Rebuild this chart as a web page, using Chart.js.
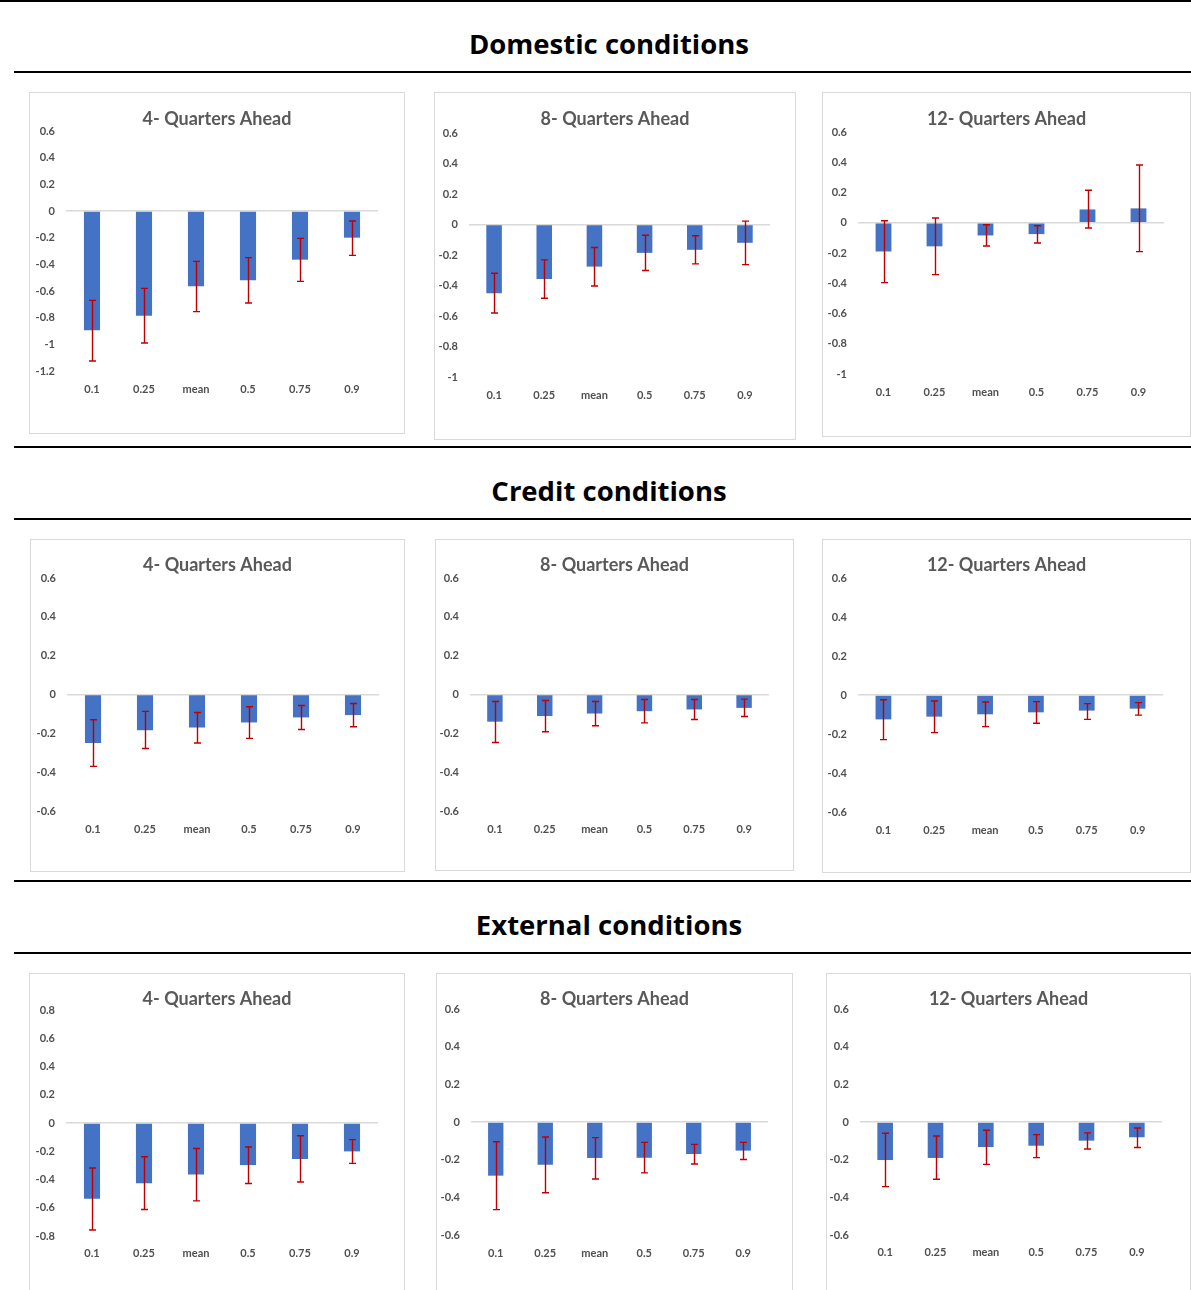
<!DOCTYPE html>
<html>
<head>
<meta charset="utf-8">
<script src="https://cdn.jsdelivr.net/npm/chart.js@4.4.1/dist/chart.umd.min.js"></script>
<style>
  html, body { margin: 0; padding: 0; background: #ffffff; }
  #page { position: relative; width: 1191px; height: 1290px; overflow: hidden; background: #ffffff; }
  .rule { position: absolute; height: 2px; background: #000000; }
  .heading { position: absolute; left: 0; width: 1218px; text-align: center;
             font-family: "Open Sans", "Noto Sans", sans-serif; font-weight: 700;
             font-size: 27.5px; line-height: 30px; color: #000000; }
  .box { position: absolute; box-sizing: border-box; border: 1px solid #d9d9d9; background: #ffffff; }
  .box canvas { position: absolute; left: -1px; top: -1px; }
</style>
</head>
<body>
<div id="page"></div>
<script>
// Horizons and categories
const categories = ['0.1', '0.25', 'mean', '0.5', '0.75', '0.9'];
const horizonTitles = ['4- Quarters Ahead', '8- Quarters Ahead', '12- Quarters Ahead'];
const sectionTitles = ['Domestic conditions', 'Credit conditions', 'External conditions'];

// Domestic conditions: point estimates and confidence bands
const domestic4Value = [-0.895, -0.785, -0.565, -0.52, -0.365, -0.2];
const domestic4Low   = [-1.125, -0.99, -0.755, -0.69, -0.528, -0.333];
const domestic4High  = [-0.67, -0.58, -0.378, -0.35, -0.205, -0.075];

const domestic8Value = [-0.45, -0.357, -0.276, -0.186, -0.166, -0.12];
const domestic8Low   = [-0.58, -0.484, -0.403, -0.302, -0.258, -0.263];
const domestic8High  = [-0.32, -0.232, -0.151, -0.07, -0.074, 0.022];

const domestic12Value = [-0.19, -0.156, -0.084, -0.075, 0.088, 0.095];
const domestic12Low   = [-0.396, -0.343, -0.154, -0.134, -0.035, -0.191];
const domestic12High  = [0.013, 0.031, -0.013, -0.02, 0.215, 0.382];

// Credit conditions
const credit4Value = [-0.25, -0.184, -0.17, -0.144, -0.118, -0.106];
const credit4Low   = [-0.37, -0.278, -0.25, -0.226, -0.18, -0.166];
const credit4High  = [-0.13, -0.087, -0.093, -0.063, -0.057, -0.046];

const credit8Value = [-0.14, -0.111, -0.098, -0.086, -0.077, -0.069];
const credit8Low   = [-0.247, -0.192, -0.161, -0.146, -0.129, -0.113];
const credit8High  = [-0.036, -0.031, -0.036, -0.026, -0.026, -0.024];

const credit12Value = [-0.125, -0.111, -0.099, -0.089, -0.08, -0.07];
const credit12Low   = [-0.229, -0.193, -0.162, -0.145, -0.125, -0.103];
const credit12High  = [-0.024, -0.031, -0.036, -0.034, -0.044, -0.039];

// External conditions
const external4Value = [-0.537, -0.426, -0.364, -0.298, -0.255, -0.201];
const external4Low   = [-0.757, -0.612, -0.551, -0.428, -0.418, -0.286];
const external4High  = [-0.319, -0.239, -0.18, -0.17, -0.09, -0.118];

const external8Value = [-0.285, -0.227, -0.191, -0.19, -0.17, -0.152];
const external8Low   = [-0.465, -0.376, -0.303, -0.27, -0.223, -0.199];
const external8High  = [-0.105, -0.08, -0.083, -0.108, -0.119, -0.108];

const external12Value = [-0.202, -0.191, -0.133, -0.126, -0.099, -0.081];
const external12Low   = [-0.343, -0.304, -0.225, -0.189, -0.143, -0.135];
const external12High  = [-0.06, -0.074, -0.044, -0.067, -0.058, -0.032];

// Value-axis ranges per row of panels
const domesticRange = [[-1.2, 0.6], [-1, 0.6], [-1, 0.6]];
const creditRange   = [[-0.6, 0.6], [-0.6, 0.6], [-0.6, 0.6]];
const externalRange = [[-0.8, 0.8], [-0.6, 0.6], [-0.6, 0.6]];

// Page layout: panel boxes and their plot areas (px)
const panels = [
  { title: 0, value: domestic4Value, low: domestic4Low, high: domestic4High, range: domesticRange[0],
    box: [29, 92, 404, 433], plot: [66, 378], yTop: 131, yBot: 371, labelY: 389, titleY: 119 },
  { title: 1, value: domestic8Value, low: domestic8Low, high: domestic8High, range: domesticRange[1],
    box: [434, 92, 795, 439], plot: [469, 770], yTop: 133, yBot: 377, labelY: 395, titleY: 119 },
  { title: 2, value: domestic12Value, low: domestic12Low, high: domestic12High, range: domesticRange[2],
    box: [822, 92, 1190, 436], plot: [858, 1164], yTop: 132, yBot: 374, labelY: 392, titleY: 119 },
  { title: 0, value: credit4Value, low: credit4Low, high: credit4High, range: creditRange[0],
    box: [30, 539, 404, 871], plot: [67, 379], yTop: 578, yBot: 811, labelY: 829, titleY: 565 },
  { title: 1, value: credit8Value, low: credit8Low, high: credit8High, range: creditRange[1],
    box: [435, 539, 793, 870], plot: [470, 769], yTop: 578, yBot: 811, labelY: 829, titleY: 565 },
  { title: 2, value: credit12Value, low: credit12Low, high: credit12High, range: creditRange[2],
    box: [822, 539, 1190, 872], plot: [858, 1163], yTop: 578, yBot: 812, labelY: 830, titleY: 565 },
  { title: 0, value: external4Value, low: external4Low, high: external4High, range: externalRange[0],
    box: [29, 973, 404, 1300], plot: [66, 378], yTop: 1010, yBot: 1236, labelY: 1253, titleY: 999 },
  { title: 1, value: external8Value, low: external8Low, high: external8High, range: externalRange[1],
    box: [436, 973, 792, 1300], plot: [471, 768], yTop: 1009, yBot: 1235, labelY: 1253, titleY: 999 },
  { title: 2, value: external12Value, low: external12Low, high: external12High, range: externalRange[2],
    box: [826, 973, 1190, 1300], plot: [860, 1162], yTop: 1009, yBot: 1235, labelY: 1252, titleY: 999 }
];

const headings = [
  { text: sectionTitles[0], y: 44, rules: [[0, 0, 1191], [71, 14, 1191]] },
  { text: sectionTitles[1], y: 491, rules: [[446, 14, 1191], [518, 14, 1191]] },
  { text: sectionTitles[2], y: 925, rules: [[880, 14, 1191], [952, 14, 1191]] }
];

const page = document.getElementById('page');

headings.forEach(h => {
  h.rules.forEach(([top, left, right]) => {
    const r = document.createElement('div');
    r.className = 'rule';
    r.style.top = top + 'px';
    r.style.left = left + 'px';
    r.style.width = (right - left) + 'px';
    page.appendChild(r);
  });
  const t = document.createElement('div');
  t.className = 'heading';
  t.style.top = (h.y - 15) + 'px';
  t.textContent = h.text;
  page.appendChild(t);
});

// Draws a vertical interval with caps for each bar from the dataset's low/high arrays
const errorBars = {
  id: 'errorBars',
  afterDatasetsDraw(chart, args, opts) {
    const ds = chart.data.datasets[0];
    const meta = chart.getDatasetMeta(0);
    const yScale = chart.scales.y;
    const ctx = chart.ctx;
    ctx.save();
    ctx.strokeStyle = opts.color;
    ctx.lineWidth = opts.lineWidth;
    meta.data.forEach((bar, i) => {
      const x = Math.round(bar.x) + 0.5;
      const yLo = yScale.getPixelForValue(ds.errorLow[i]);
      const yHi = yScale.getPixelForValue(ds.errorHigh[i]);
      ctx.beginPath();
      ctx.moveTo(x, yHi);
      ctx.lineTo(x, yLo);
      ctx.moveTo(x - opts.cap, yHi);
      ctx.lineTo(x + opts.cap, yHi);
      ctx.moveTo(x - opts.cap, yLo);
      ctx.lineTo(x + opts.cap, yLo);
      ctx.stroke();
    });
    ctx.restore();
  }
};

const tickFont = { family: 'Lato, "Open Sans", sans-serif', size: 11, weight: 'bold' };
const textGrey = '#505050';

panels.forEach(p => {
  const [L, T, R, B] = p.box;
  const W = R - L + 1, H = B - T + 1;
  const box = document.createElement('div');
  box.className = 'box';
  box.style.left = L + 'px';
  box.style.top = T + 'px';
  box.style.width = W + 'px';
  box.style.height = H + 'px';
  const canvas = document.createElement('canvas');
  canvas.width = W;
  canvas.height = H;
  canvas.style.width = W + 'px';
  canvas.style.height = H + 'px';
  box.appendChild(canvas);
  page.appendChild(box);

  const titleSize = 18, titleLH = 1.2;
  const titleTop = (p.titleY - T) - titleSize * titleLH / 2;
  const titleBottom = (p.yTop - T) - titleTop - titleSize * titleLH;
  const yAxisWidth = p.plot[0] - L;
  const rightGap = R + 1 - p.plot[1];
  const xAxisHeight = H - (p.yBot - T);
  const xLabelPad = (p.labelY - p.yBot) - 11 * 1.2 / 2;

  new Chart(canvas, {
    type: 'bar',
    data: {
      labels: categories,
      datasets: [{
        data: p.value,
        errorLow: p.low,
        errorHigh: p.high,
        backgroundColor: '#4472C4',
        borderWidth: 0,
        categoryPercentage: 1,
        barPercentage: 0.31
      }]
    },
    options: {
      responsive: false,
      animation: false,
      devicePixelRatio: 1,
      layout: { padding: 0 },
      plugins: {
        legend: { display: false },
        tooltip: { enabled: false },
        title: {
          display: true,
          text: horizonTitles[p.title],
          color: '#595959',
          font: { family: 'Lato, "Open Sans", sans-serif', size: titleSize, weight: 'bold', lineHeight: titleLH },
          padding: { top: titleTop, bottom: titleBottom }
        },
        errorBars: { color: '#C00000', lineWidth: 1.4, cap: 3.5 }
      },
      scales: {
        x: {
          grid: { display: false, drawTicks: false },
          border: { display: false },
          ticks: { color: textGrey, font: tickFont, padding: xLabelPad, maxRotation: 0 },
          afterFit(scale) { scale.height = xAxisHeight; }
        },
        y: {
          min: p.range[0],
          max: p.range[1],
          border: { display: false },
          grid: {
            drawTicks: false,
            lineWidth: 1.5,
            color: c => (c.tick && Math.abs(c.tick.value) < 1e-9) ? '#d9d9d9' : 'rgba(0,0,0,0)'
          },
          ticks: {
            stepSize: 0.2,
            color: textGrey,
            font: tickFont,
            padding: 11,
            callback: v => {
              const r = Math.round(v * 10) / 10;
              return r === 0 ? '0' : String(r);
            }
          },
          afterFit(scale) { scale.width = yAxisWidth; }
        },
        // empty right-hand margin so the panel title stays centred on the whole panel
        yGap: {
          position: 'right',
          min: p.range[0],
          max: p.range[1],
          grid: { display: false, drawTicks: false },
          border: { display: false },
          ticks: { display: false },
          afterFit(scale) { scale.width = rightGap; }
        }
      }
    },
    plugins: [errorBars]
  });
});
</script>
</body>
</html>
